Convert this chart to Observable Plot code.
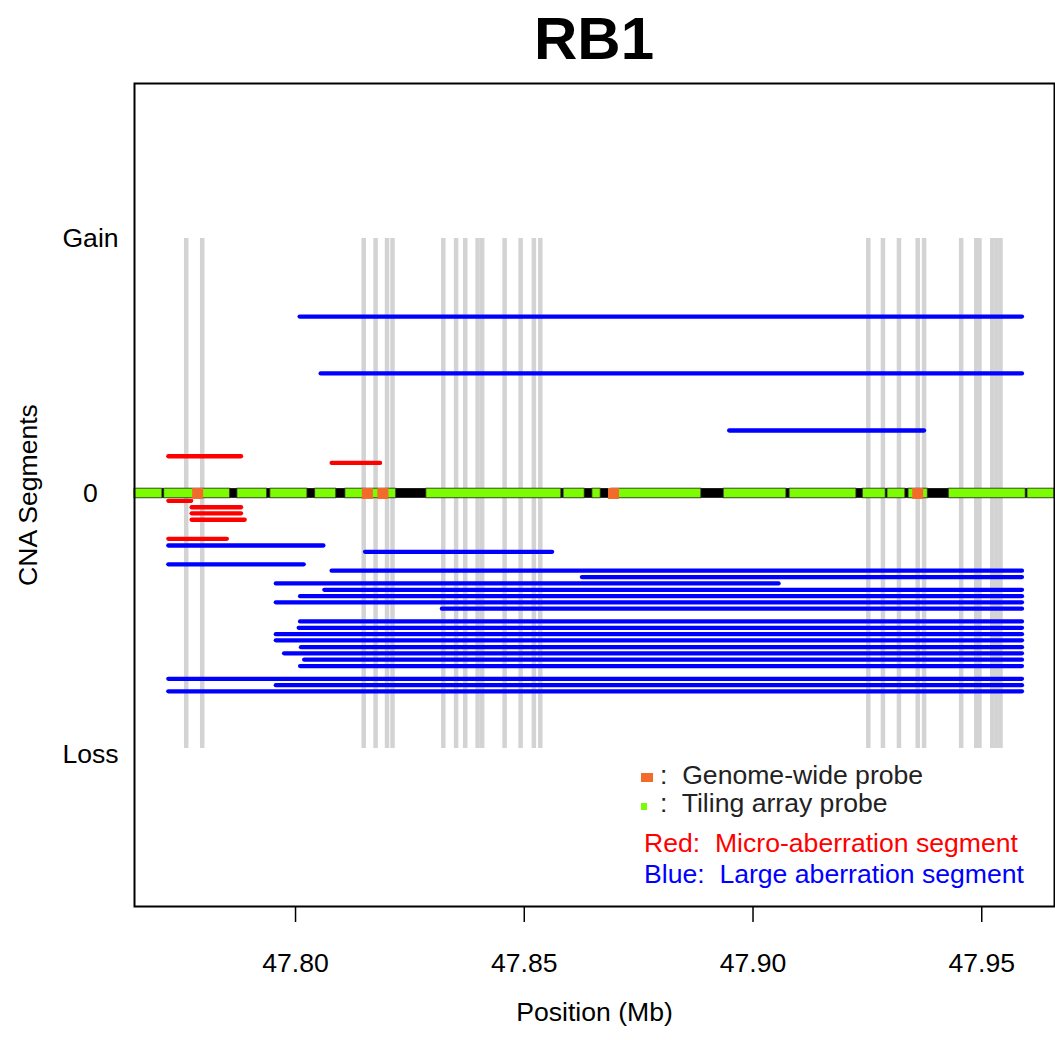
<!DOCTYPE html>
<html><head><meta charset="utf-8">
<script src="https://cdn.jsdelivr.net/npm/d3@7"></script>
<script src="https://cdn.jsdelivr.net/npm/@observablehq/plot@0.6"></script>
<style>
body{margin:0;background:#fff;}
#wrap{position:relative;width:1055px;height:1040px;font-family:"Liberation Sans",Arial,Helvetica,sans-serif;}
.t{position:absolute;white-space:pre;line-height:1;font-size:26.6px;color:#222;}
.sq{position:absolute;}
</style></head><body><div id="wrap"></div>
<script>
// ---- axes ----
const xDomain = [47.7648, 47.9659];
const yDomain = [-1.620, 1.608];
const xTicks = [47.80, 47.85, 47.90, 47.95];
const yTickValues = [1, 0, -1.025];
const yTickLabels = ["Gain", "0", "Loss"];

// ---- grey probe lines (Mb) ----
const probeLinePos = [47.7761, 47.7796, 47.8149, 47.8175, 47.8200, 47.8212, 47.8323, 47.8351,
  47.8371, 47.8398, 47.8408, 47.8457, 47.8492, 47.8521, 47.8535, 47.9252, 47.9284, 47.9319,
  47.9360, 47.9374, 47.9455, 47.9488, 47.9495, 47.9523, 47.9532, 47.9541];

// ---- tiling array probe blocks (green) ----
const tilingStart = [47.7648, 47.7713, 47.7873, 47.7945, 47.8043, 47.8109, 47.8286, 47.8586, 47.8649,
  47.8690, 47.8936, 47.9080, 47.9240, 47.9294, 47.9340, 47.9428, 47.9600];
const tilingEnd = [47.7709, 47.7857, 47.7938, 47.8026, 47.8089, 47.8220, 47.8581, 47.8632, 47.8667,
  47.8887, 47.9073, 47.9226, 47.9290, 47.9333, 47.9382, 47.9596, 47.9659];

// ---- genome-wide probes (orange) ----
const genomeProbePos = [47.7786, 47.8157, 47.8191, 47.8695, 47.9360];

// ---- CNA segments ----
const segStart = [47.7723, 47.8080, 47.7723, 47.7774, 47.7774, 47.7774, 47.7723,
  47.8010, 47.8056, 47.8949,
  47.7723, 47.8153, 47.7723, 47.8080, 47.8627, 47.7958, 47.8064, 47.8011, 47.7958, 47.8321,
  47.8011, 47.8008, 47.7958, 47.7958, 47.8013, 47.7976, 47.8020, 47.8011, 47.7723, 47.7958, 47.7723];
const segEnd = [47.7882, 47.8186, 47.7773, 47.7882, 47.7882, 47.7890, 47.7851,
  47.9589, 47.9589, 47.9375,
  47.8062, 47.8562, 47.8019, 47.9589, 47.9589, 47.9057, 47.9589, 47.9589, 47.9589, 47.9589,
  47.9589, 47.9589, 47.9589, 47.9589, 47.9589, 47.9589, 47.9589, 47.9589, 47.9589, 47.9589, 47.9589];
const segLevel = [0.146, 0.120, -0.029, -0.054, -0.078, -0.103, -0.178,
  0.694, 0.471, 0.247,
  -0.204, -0.229, -0.278, -0.303, -0.328, -0.353, -0.378, -0.403, -0.427, -0.452,
  -0.502, -0.527, -0.552, -0.576, -0.603, -0.627, -0.652, -0.677, -0.727, -0.752, -0.776];
const segType = ["micro","micro","micro","micro","micro","micro","micro",
  "large","large","large",
  "large","large","large","large","large","large","large","large","large","large",
  "large","large","large","large","large","large","large","large","large","large","large"];

// ---- build tables ----
const segs = segStart.map((s, i) => ({x1: s, x2: segEnd[i], y: segLevel[i], type: segType[i]}));
const tiles = tilingStart.map((s, i) => ({x1: s, x2: tilingEnd[i]}));
const bandHalf = 0.019;

const chart = Plot.plot({
  width: 1055, height: 1040,
  marginTop: 83, marginBottom: 134, marginLeft: 134, marginRight: 1,
  x: {domain: xDomain},
  y: {domain: yDomain},
  style: {fontSize: "26.6px", fontFamily: "'Liberation Sans', Arial, Helvetica, sans-serif", color: "#000", background: "#fff", overflow: "visible"},
  marks: [
    Plot.ruleX(probeLinePos, {x: d => d, y1: -1, y2: 1, stroke: "#d3d3d3", strokeWidth: 4.5}),
    Plot.ruleY(segs.filter(d => d.type === "large"), {y: "y", x1: "x1", x2: "x2", stroke: "#0000ff", strokeWidth: 4.3, strokeLinecap: "round"}),
    Plot.ruleY(segs.filter(d => d.type === "micro"), {y: "y", x1: "x1", x2: "x2", stroke: "#ff0000", strokeWidth: 4.3, strokeLinecap: "round"}),
    Plot.rect([{x1: xDomain[0], x2: xDomain[1]}], {x1: "x1", x2: "x2", y1: -bandHalf, y2: bandHalf, fill: "#000"}),
    Plot.rect(tiles, {x1: "x1", x2: "x2", y1: -bandHalf, y2: bandHalf, fill: "#7CFC00", stroke: "#333", strokeWidth: 0.8}),
    Plot.dot(genomeProbePos, {x: d => d, y: 0, symbol: "square", r: 6.2, fill: "#F36B2B"}),
    Plot.axisX({ticks: xTicks, tickFormat: d => d.toFixed(2), tickSize: 16, tickPadding: 31, strokeWidth: 1.5, label: null}),
    Plot.axisY({ticks: yTickValues, tickFormat: d => yTickLabels[yTickValues.indexOf(d)], tickSize: 0, tickPadding: 44, textAnchor: "middle", label: null}),
    Plot.frame({stroke: "#000", strokeWidth: 2}),
    Plot.text(["CNA Segments"], {frameAnchor: "left", textAnchor: "middle", dx: -106, rotate: -90, text: d => d}),
    Plot.text(["Position (Mb)"], {frameAnchor: "bottom", dy: 114, text: d => d})
  ]
});

const wrap = document.getElementById("wrap");
wrap.appendChild(chart);

function addText(txt, left, top, extra) {
  const el = document.createElement("div");
  el.className = "t";
  el.textContent = txt;
  el.style.left = left + "px";
  el.style.top = top + "px";
  Object.assign(el.style, extra || {});
  wrap.appendChild(el);
}
function addSq(left, top, w, h, color) {
  const el = document.createElement("div");
  el.className = "sq";
  Object.assign(el.style, {left: left + "px", top: top + "px", width: w + "px", height: h + "px", background: color});
  wrap.appendChild(el);
}
// title
addText("RB1", 494, 9, {width: "200px", textAlign: "center", fontSize: "60px", fontWeight: "bold", color: "#000"});
// legend
addSq(641, 773, 12, 9, "#F36B2B");
addSq(641, 803, 6, 7, "#7CFC00");
addText(":  Genome-wide probe", 660, 762);
addText(":  Tiling array probe", 660, 790);
addText("Red:  Micro-aberration segment", 644, 830, {color: "#ff0000"});
addText("Blue:  Large aberration segment", 644, 861, {color: "#0000ff"});
</script>
</body></html>
